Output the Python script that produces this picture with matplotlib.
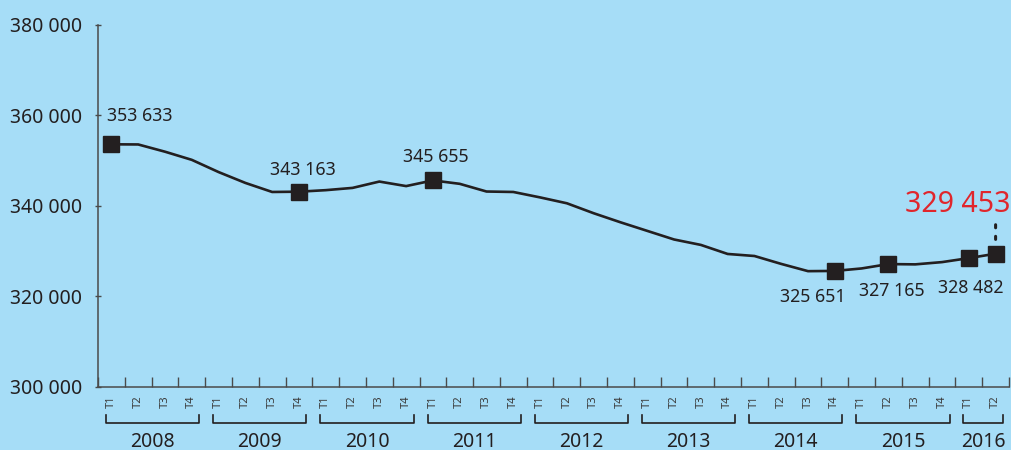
import matplotlib
matplotlib.use("Agg")
import matplotlib.pyplot as plt

# ---- data ----
years = ["2008", "2009", "2010", "2011", "2012", "2013", "2014", "2015", "2016"]
quarters_per_year = [4, 4, 4, 4, 4, 4, 4, 4, 2]
quarter_names = ["T1", "T2", "T3", "T4"]
values = [
    353633, 353600, 352000, 350200,   # 2008
    347500, 345100, 343100, 343163,   # 2009
    343500, 344000, 345400, 344400,   # 2010
    345655, 344900, 343200, 343100,   # 2011
    341900, 340600, 338400, 336400,   # 2012
    334500, 332600, 331400, 329400,   # 2013
    328950, 327200, 325600, 325651,   # 2014
    326200, 327165, 327100, 327600,   # 2015
    328482, 329453,                   # 2016
]
labelled = {0: "353 633", 7: "343 163", 12: "345 655", 27: "325 651",
            29: "327 165", 32: "328 482"}
last_label = "329 453"
yticks = [300000, 320000, 340000, 360000, 380000]
ytick_labels = ["300 000", "320 000", "340 000", "360 000", "380 000"]

# ---- style ----
bg = "#a6ddf7"
ink = "#231f20"
red = "#e0262c"
plt.rcParams['font.family'] = ['Noto Sans', 'DejaVu Sans']

fig = plt.figure(figsize=(10.12, 4.5), dpi=100)
fig.patch.set_facecolor(bg)
ax = fig.add_axes([98 / 1012, 63 / 450, 911 / 1012, 362 / 450])
ax.set_facecolor(bg)

n = len(values)
xs = [i + 0.5 for i in range(n)]
ax.plot(xs, values, color=ink, lw=1.9, zorder=3, solid_joinstyle='miter')
mk = sorted(list(labelled.keys()) + [n - 1])
ax.plot([xs[i] for i in mk], [values[i] for i in mk], ls='none', marker='s',
        ms=12, color=ink, zorder=4)

ax.set_xlim(0, n)
ax.set_ylim(300000, 380000)
ax.set_yticks(yticks)
ax.set_yticklabels(ytick_labels)
ax.set_xticks(range(0, n + 1))
ax.set_xticklabels([])

for s in ["top", "right"]:
    ax.spines[s].set_visible(False)
for s in ["left", "bottom"]:
    ax.spines[s].set_color("#4a4a4a")
    ax.spines[s].set_linewidth(1.1)
ax.tick_params(axis='y', direction='inout', length=5, width=1.0, color="#4a4a4a",
               labelsize=14, labelcolor=ink, pad=9)
ax.tick_params(axis='x', direction='in', length=7.5, width=1.0, color="#4a4a4a")

# data labels
offsets = {0: (-4, 28, 'left'), 7: (4, 22, 'center'), 12: (3, 23, 'center'),
           27: (-22, -26, 'center'), 29: (3, -27, 'center'), 32: (2, -30, 'center')}
for i, txt in labelled.items():
    dx, dy, ha = offsets[i]
    ax.annotate(txt, (xs[i], values[i]), xytext=(dx, dy), textcoords='offset pixels',
                ha=ha, va='center', fontsize=12.8, color=ink, zorder=5)

ax.annotate(last_label, (xs[-1], values[-1]), xytext=(-38, 49), textcoords='offset pixels',
            ha='center', va='center', fontsize=20.5, color=red, zorder=5,
            annotation_clip=False)
ax.annotate("", (xs[-1], values[-1]), xytext=(0, 29), textcoords='offset pixels',
            arrowprops=dict(arrowstyle='-', linestyle=(0, (1, 2.8)), lw=2.2, color=ink,
                            shrinkA=0, shrinkB=6.5))

# quarter labels and year brackets
trans = ax.get_xaxis_transform()
start = 0
for yr, nq in zip(years, quarters_per_year):
    for q in range(nq):
        ax.text(start + q + 0.5, -0.0414, quarter_names[q], transform=trans,
                rotation=90, ha='center', va='center', fontsize=8, color="#3a3a3a")
    x0 = start + 0.3
    x1 = start + nq - 0.22
    ax.plot([x0, x0, x1, x1], [-0.077, -0.0994, -0.0994, -0.077], transform=trans,
            color=ink, lw=1.2, clip_on=False)
    ax.text((x0 + x1) / 2, -0.152, yr, transform=trans, ha='center', va='center',
            fontsize=14, color=ink)
    start += nq

fig.savefig("out.png", dpi=100, facecolor=bg)
